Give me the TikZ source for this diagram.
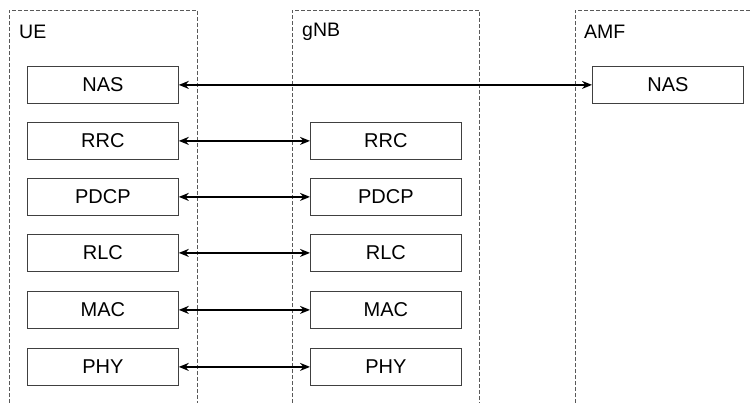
\documentclass[tikz,border=0pt]{standalone}
\usepackage{fontspec}
\setmainfont{Liberation Sans}
\usetikzlibrary{arrows.meta}
\begin{document}
\begin{tikzpicture}[x=1pt,y=-1pt,
  layer/.style={draw=black!75, line width=0.8pt, minimum width=151pt, minimum height=37pt, inner sep=0pt, font=\fontsize{20}{22}\selectfont, anchor=north west},
  region/.style={draw=black!65, line width=0.8pt, dash pattern=on 4pt off 2pt},
  title/.style={font=\fontsize{19.5}{22}\selectfont, anchor=west, inner sep=0pt},
  link/.style={line width=1.5pt, {Stealth[length=10pt,width=8pt]}-{Stealth[length=10pt,width=8pt]}}]
\useasboundingbox (0,0) rectangle (752,403);
% regions
\draw[region] (9,403) -- (9,10) -- (197,10) -- (197,403);
\draw[region] (292,403) -- (292,10) -- (479,10) -- (479,403);
\draw[region] (575,403) -- (575,10) -- (752,10);
\node[title] (ue) at (19,32) {UE};
\node[title] (gnb) at (302,32) {gNB};
\node[title] (amf) at (584,32) {AMF};
% UE stack
\node[layer] (uenas) at (27,66) {NAS};
\node[layer] (uerrc) at (27,122) {RRC};
\node[layer] (uepdcp) at (27,178) {PDCP};
\node[layer] (uerlc) at (27,234) {RLC};
\node[layer] (uemac) at (27,291) {MAC};
\node[layer] (uephy) at (27,348) {PHY};
% gNB stack
\node[layer] (grrc) at (310,122) {RRC};
\node[layer] (gpdcp) at (310,178) {PDCP};
\node[layer] (grlc) at (310,234) {RLC};
\node[layer] (gmac) at (310,291) {MAC};
\node[layer] (gphy) at (310,348) {PHY};
% AMF
\node[layer] (anas) at (592,66) {NAS};
% links
\draw[link] (uenas.east) -- (anas.west);
\draw[link] (uerrc.east) -- (grrc.west);
\draw[link] (uepdcp.east) -- (gpdcp.west);
\draw[link] (uerlc.east) -- (grlc.west);
\draw[link] (uemac.east) -- (gmac.west);
\draw[link] (uephy.east) -- (gphy.west);
\end{tikzpicture}
\end{document}
